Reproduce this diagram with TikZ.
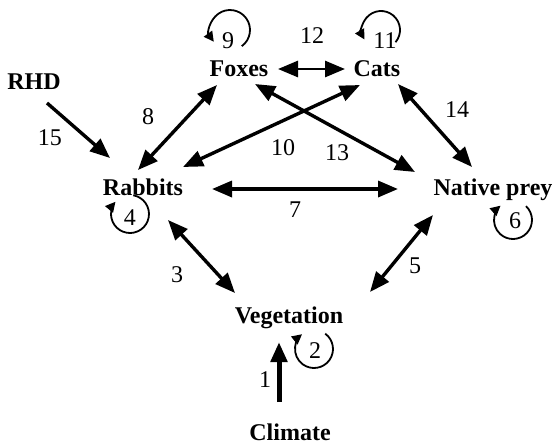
\documentclass[tikz,border=0pt]{standalone}
\usepackage{fontspec}
\setmainfont{Liberation Serif}
\usetikzlibrary{arrows.meta,calc}
\begin{document}
\begin{tikzpicture}[x=0.5pt,y=-0.5pt,
  species/.style={font=\fontsize{12}{14}\selectfont\bfseries, anchor=base, inner sep=0pt},
  num/.style={font=\fontsize{12}{14}\selectfont, anchor=base, inner sep=0pt},
  link/.style={line width=1.7pt, {Triangle[length=10pt,width=8pt]}-{Triangle[length=10pt,width=8pt]}},
  onelink/.style={line width=1.7pt, -{Triangle[length=10pt,width=8pt]}},
  thicklink/.style={line width=2.5pt, -{Triangle[length=10pt,width=8pt]}},
  selfloop/.style={line width=0.9pt, -{Triangle[length=5pt,width=5pt]}}]
\useasboundingbox (0,0) rectangle (553,446);
% names
\node[species] (fox) at (239,76) {Foxes};
\node[species] (cat) at (377,76) {Cats};
\node[species] (rhd) at (34,89) {RHD};
\node[species] (rab) at (143,195) {Rabbits};
\node[species] (nat) at (493,195) {Native prey};
\node[species] (veg) at (289,323) {Vegetation};
\node[species] (cli) at (290,440) {Climate};
% arrow end points
\coordinate (f12) at (278,69);  \coordinate (c12) at (345,69);
\coordinate (r8)  at (138,170); \coordinate (f8)  at (217,85);
\coordinate (r10) at (183,167); \coordinate (c10) at (360,85);
\coordinate (f13) at (255,84);  \coordinate (n13) at (415,172);
\coordinate (c14) at (398,84);  \coordinate (n14) at (472,167);
\coordinate (r7)  at (212,189); \coordinate (n7)  at (398,189);
\coordinate (h15) at (47,103);  \coordinate (r15) at (110,158);
\coordinate (r3)  at (168,220); \coordinate (v3)  at (235,293);
\coordinate (n5)  at (433,215); \coordinate (v5)  at (370,292);
\coordinate (c1)  at (279,402); \coordinate (v1)  at (279,342);
% connectors
\draw[link, line width=1.4pt] (f12) -- (c12);
\draw[link] (r8) -- (f8);
\draw[link] (r10) -- (c10);
\draw[link] (f13) -- (n13);
\draw[link] (c14) -- (n14);
\draw[link] (r7) -- (n7);
\draw[onelink] (h15) -- (r15);
\draw[link] (r3) -- (v3);
\draw[link] (n5) -- (v5);
\draw[thicklink] (c1) -- (v1);
% self loops
\draw[selfloop] ($(230,30)+(54:20)$) arc[start angle=54, end angle=-216, radius=20];
\draw[selfloop] ($(381,30)+(40:19)$) arc[start angle=40, end angle=-210, radius=19];
\draw[selfloop] ($(130,214)+(-80:19)$) arc[start angle=-80, end angle=220, radius=19];
\draw[selfloop] ($(513,220)+(-47:19)$) arc[start angle=-47, end angle=229, radius=19];
\draw[selfloop] ($(314,349)+(-54:19)$) arc[start angle=-54, end angle=231, radius=19];
% numbers
\node[num] (n9)  at (228,48) {9};
\node[num] (n11) at (385,48) {11};
\node[num] (n12) at (312,43) {12};
\node[num] (n8)  at (148,124) {8};
\node[num] (n15) at (50,145) {15};
\node[num] (n10) at (283,155) {10};
\node[num] (n13) at (337,160) {13};
\node[num] (n14) at (457,117) {14};
\node[num] (n4)  at (130,225) {4};
\node[num] (n7)  at (295,217) {7};
\node[num] (n6)  at (515,228) {6};
\node[num] (n3)  at (177,282) {3};
\node[num] (n5)  at (415,273) {5};
\node[num] (n2)  at (315,358) {2};
\node[num] (n1)  at (265,387) {1};
\end{tikzpicture}
\end{document}
